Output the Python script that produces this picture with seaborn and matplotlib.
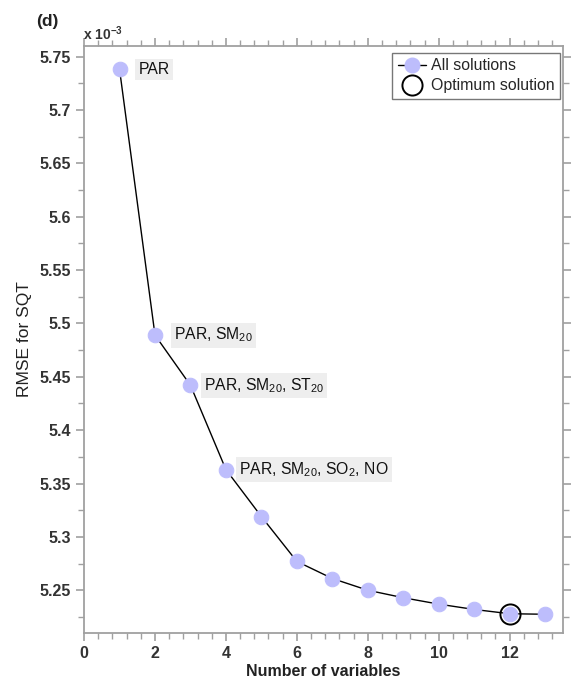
import numpy as np
import pandas as pd
import matplotlib
matplotlib.use("Agg")
import matplotlib.pyplot as plt
from matplotlib.ticker import AutoMinorLocator, MultipleLocator, FuncFormatter
from matplotlib.lines import Line2D
import seaborn as sns

n_vars = [1, 2, 3, 4, 5, 6, 7, 8, 9, 10, 11, 12, 13]
rmse = [5.738, 5.489, 5.442, 5.363, 5.319, 5.277, 5.261, 5.250, 5.243, 5.237, 5.232, 5.228, 5.2275]
optimum_n = 12
point_labels = {1: "PAR", 2: "PAR, SM$_{20}$", 3: "PAR, SM$_{20}$, ST$_{20}$",
                4: "PAR, SM$_{20}$, SO$_{2}$, NO"}
label_offsets_pt = {1: 13.5, 2: 13.5, 3: 9.5, 4: 9.5}

sns.set_theme(style="white")
plt.rcParams["font.family"] = ["Liberation Sans", "DejaVu Sans"]
plt.rcParams["mathtext.default"] = "regular"

df = pd.DataFrame({"n": n_vars, "rmse": rmse})

fig = plt.figure(figsize=(5.72, 6.85), dpi=100)
ax = fig.add_axes([0.147, 0.076, 0.837, 0.857])

sns.lineplot(data=df, x="n", y="rmse", ax=ax, color="black", linewidth=1.0,
             marker="o", markersize=10.5, markerfacecolor="#bdbdfc",
             markeredgecolor="#bdbdfc", zorder=3)
opt = df[df["n"] == optimum_n]
ax.plot(opt["n"], opt["rmse"], "o", markersize=14.5, markerfacecolor="none",
        markeredgecolor="black", markeredgewidth=1.4, zorder=4)

for n, txt in point_labels.items():
    yv = df.loc[df["n"] == n, "rmse"].iloc[0]
    ax.annotate(txt, (n, yv), xytext=(label_offsets_pt[n], 0), textcoords="offset points",
                va="center", ha="left", fontsize=11.3, color="#111111",
                bbox=dict(boxstyle="square,pad=0.2", fc="#eeeeee", ec="none"))

ax.set_xlim(0, 13.5)
ax.set_ylim(5.21, 5.76)
ax.xaxis.set_major_locator(MultipleLocator(2))
ax.xaxis.set_minor_locator(AutoMinorLocator(5))
ax.yaxis.set_major_locator(MultipleLocator(0.05))
ax.yaxis.set_minor_locator(AutoMinorLocator(2))
ax.yaxis.set_major_formatter(FuncFormatter(lambda v, p: f"{v:.2f}".rstrip("0")))

for s in ax.spines.values():
    s.set_color("#a0a0a0")
    s.set_linewidth(1.3)
    s.set_visible(True)

ax.tick_params(axis="both", which="both", direction="out", color="#a0a0a0",
               top=True, right=True, bottom=True, left=True,
               labeltop=False, labelright=False)
ax.tick_params(which="major", length=6, width=1.2, labelsize=11.5, labelcolor="#333333")
ax.tick_params(which="minor", length=4, width=1.0)
for lab in ax.get_xticklabels() + ax.get_yticklabels():
    lab.set_fontweight("bold")

ax.set_xlabel("Number of variables", fontsize=11.5, fontweight="bold", color="#222222", labelpad=2)
ax.set_ylabel("RMSE for SQT", fontsize=12.5, color="#222222", labelpad=5)

fig.text(0.064, 0.962, "(d)", fontsize=12.5, fontweight="bold", color="#222222")
fig.text(0.145, 0.942, "x 10$^{-3}$", fontsize=10, fontweight="bold", color="#333333")

handles = [Line2D([0], [0], color="black", linewidth=1.0, marker="o", markersize=10.5,
                  markerfacecolor="#bdbdfc", markeredgecolor="#bdbdfc"),
           Line2D([0], [0], linestyle="none", marker="o", markersize=14.5,
                  markerfacecolor="none", markeredgecolor="black", markeredgewidth=1.4)]
leg = ax.legend(handles, ["All solutions", "Optimum solution"], loc="upper right",
                fontsize=11.4, frameon=True, fancybox=False, handlelength=1.8,
                handletextpad=0.3, borderpad=0.35, labelspacing=0.3,
                borderaxespad=0, bbox_to_anchor=(0.994, 0.988))
leg.get_frame().set_edgecolor("#555555")
leg.get_frame().set_linewidth(1.0)

fig.savefig("out.png", dpi=100)
